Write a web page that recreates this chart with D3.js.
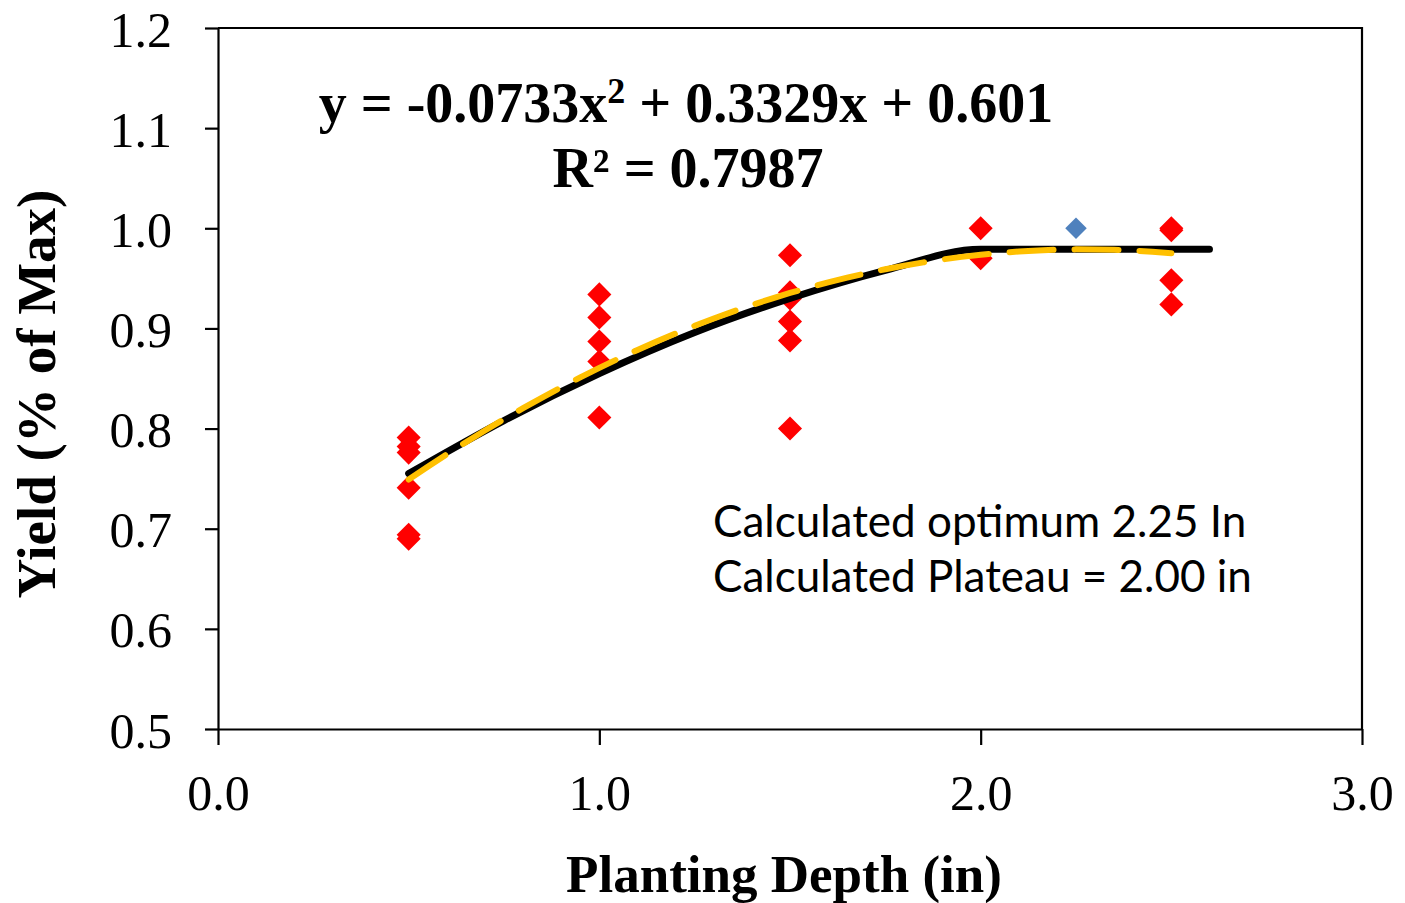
<!DOCTYPE html>
<html>
<head>
<meta charset="utf-8">
<script src="https://cdn.jsdelivr.net/npm/d3@7"></script>
<style>
  body { margin: 0; background: #fff; }
  svg { display: block; }
  .tick text { font-family: "Liberation Serif", "Times New Roman", serif; font-size: 50px; fill: #000; }
  .axis path, .axis line { stroke: #000; stroke-width: 2.2; }
</style>
</head>
<body>
<svg width="1405" height="903"></svg>
<script>
// measured yields (fraction of max) by planting depth
const depths = [0.5, 0.5, 0.5, 0.5, 0.5, 0.5,
                1.0, 1.0, 1.0, 1.0, 1.0,
                1.5, 1.5, 1.5, 1.5, 1.5, 1.5,
                2.0, 2.0,
                2.5, 2.5, 2.5, 2.5];
const yields = [0.791, 0.782, 0.776, 0.741, 0.694, 0.690,
                0.934, 0.911, 0.887, 0.867, 0.811,
                0.973, 0.936, 0.930, 0.907, 0.888, 0.800,
                1.000, 0.970,
                1.000, 0.998, 0.948, 0.924];

// calculated optimum point
const optDepth = [2.25];
const optYield = [1.0];

// quadratic-plateau line
const plateauX = [0.5, 0.75, 1.0, 1.25, 1.5, 1.75, 2.0, 2.6];
const plateauY = [0.755, 0.808, 0.855, 0.896, 0.930, 0.958, 0.979, 0.979];

// quadratic trendline coefficients (c2, c1, c0) from the printed equation
const quadCoef = [-0.0733, 0.3329, 0.601];
const quadRange = [0.5, 2.5];

const xTicks = [0, 1, 2, 3];
const yTicks = [0.5, 0.6, 0.7, 0.8, 0.9, 1.0, 1.1, 1.2];

let svg = d3.select("svg"),
    margin = {top: 28, right: 43, bottom: 174, left: 218},
    width = +svg.attr("width") - margin.left - margin.right,
    height = +svg.attr("height") - margin.top - margin.bottom;

let g = svg.append("g").attr("transform", `translate(${margin.left},${margin.top})`);

let x = d3.scaleLinear().domain([0, 3]).range([0, width]);
let y = d3.scaleLinear().domain([0.5, 1.2]).range([height, 0]);

// axes
let xAxis = g.append("g")
    .attr("class", "axis")
    .attr("transform", `translate(0,${height})`)
    .call(d3.axisBottom(x).tickValues(xTicks).tickFormat(d3.format(".1f")).tickSize(16).tickSizeOuter(0).tickPadding(29));
xAxis.selectAll(".tick text").attr("dy", "0.71em");

let yAxis = g.append("g")
    .attr("class", "axis")
    .call(d3.axisLeft(y).tickValues(yTicks).tickFormat(d3.format(".1f")).tickSize(13).tickSizeOuter(0).tickPadding(33));
yAxis.selectAll(".tick text").attr("dy", "0.36em");

// top and right border
g.append("path")
    .attr("d", `M0,0H${width}V${height}`)
    .attr("fill", "none")
    .attr("stroke", "#000")
    .attr("stroke-width", 2.2);

// data points (diamonds)
let diamond = d3.symbol().type(d3.symbolSquare).size(290);
g.append("g")
    .selectAll("path")
    .data(depths.map((d, i) => [d, yields[i]]))
    .join("path")
    .attr("d", diamond)
    .attr("fill", "#ff0000")
    .attr("transform", d => `translate(${x(d[0])},${y(d[1])}) rotate(45)`);

g.append("g")
    .selectAll("path")
    .data(optDepth.map((d, i) => [d, optYield[i]]))
    .join("path")
    .attr("d", d3.symbol().type(d3.symbolSquare).size(230))
    .attr("fill", "#4f81bd")
    .attr("transform", d => `translate(${x(d[0])},${y(d[1])}) rotate(45)`);

// plateau line (black)
let line = d3.line().x(d => x(d[0])).y(d => y(d[1])).curve(d3.curveMonotoneX);
g.append("path")
    .datum(plateauX.map((d, i) => [d, plateauY[i]]))
    .attr("fill", "none")
    .attr("stroke", "#000")
    .attr("stroke-width", 7)
    .attr("stroke-linecap", "round")
    .attr("stroke-linejoin", "round")
    .attr("d", line);

// quadratic trendline (yellow dashed)
let quadPts = d3.range(quadRange[0], quadRange[1] + 0.001, 0.05)
    .map(v => [v, quadCoef[0] * v * v + quadCoef[1] * v + quadCoef[2]]);
g.append("path")
    .datum(quadPts)
    .attr("fill", "none")
    .attr("stroke", "#ffc000")
    .attr("stroke-width", 6)
    .attr("stroke-linecap", "round")
    .attr("stroke-dasharray", "44,21")
    .attr("d", d3.line().x(d => x(d[0])).y(d => y(d[1])));

// equation
let eq = svg.append("text")
    .attr("x", 686)
    .attr("y", 122)
    .attr("text-anchor", "middle")
    .style("font-family", "'Liberation Serif', 'Times New Roman', serif")
    .style("font-weight", "bold")
    .style("font-size", "56px");
eq.append("tspan").text("y = -0.0733x");
eq.append("tspan").text("2").attr("dy", -19).style("font-size", "36px");
eq.append("tspan").text(" + 0.3329x + 0.601").attr("dy", 19);

svg.append("text")
    .attr("x", 688)
    .attr("y", 187)
    .attr("text-anchor", "middle")
    .style("font-family", "'Liberation Serif', 'Times New Roman', serif")
    .style("font-weight", "bold")
    .style("font-size", "56px")
    .text("R² = 0.7987");

// annotation
let note = svg.append("text")
    .style("font-family", "Lato, 'Open Sans', sans-serif")
    .style("font-size", "44px")
    .attr("fill", "#000");
note.append("tspan").attr("x", 713).attr("y", 537).text("Calculated optimum 2.25 In");
note.append("tspan").attr("x", 713).attr("y", 592).text("Calculated Plateau = 2.00 in");

// axis titles
svg.append("text")
    .attr("x", 784)
    .attr("y", 892)
    .attr("text-anchor", "middle")
    .style("font-family", "'Liberation Serif', 'Times New Roman', serif")
    .style("font-weight", "bold")
    .style("font-size", "53px")
    .text("Planting Depth (in)");

svg.append("text")
    .attr("transform", "translate(55,394) rotate(-90)")
    .attr("text-anchor", "middle")
    .style("font-family", "'Liberation Serif', 'Times New Roman', serif")
    .style("font-weight", "bold")
    .style("font-size", "55px")
    .text("Yield (% of Max)");
</script>
</body>
</html>
